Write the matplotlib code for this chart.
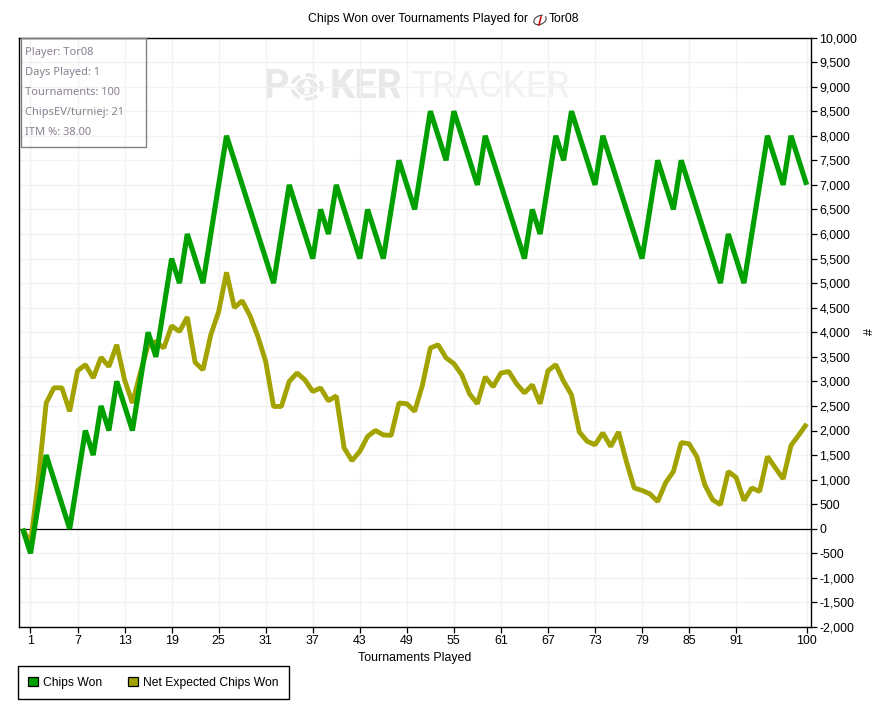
import numpy as np
import matplotlib
matplotlib.use('Agg')
import matplotlib.pyplot as plt
from matplotlib.patches import Patch, Rectangle, Circle, Polygon
from matplotlib.ticker import FuncFormatter

W, H = 883, 707

tournaments = list(range(0, 101))

chips_won = [
    0, -500, 500, 1500, 1000, 500, 0, 1000, 2000, 1500,
    2500, 2000, 3000, 2500, 2000, 3000, 4000, 3500, 4500, 5500,
    5000, 6000, 5500, 5000, 6000, 7000, 8000, 7500, 7000, 6500,
    6000, 5500, 5000, 6000, 7000, 6500, 6000, 5500, 6500, 6000,
    7000, 6500, 6000, 5500, 6500, 6000, 5500, 6500, 7500, 7000,
    6500, 7500, 8500, 8000, 7500, 8500, 8000, 7500, 7000, 8000,
    7500, 7000, 6500, 6000, 5500, 6500, 6000, 7000, 8000, 7500,
    8500, 8000, 7500, 7000, 8000, 7500, 7000, 6500, 6000, 5500,
    6500, 7500, 7000, 6500, 7500, 7000, 6500, 6000, 5500, 5000,
    6000, 5500, 5000, 6000, 7000, 8000, 7500, 7000, 8000, 7500,
    7000,
]

net_expected = [
    0, -300, 1000, 2560, 2870, 2870, 2390, 3215, 3340, 3070,
    3490, 3300, 3745, 3030, 2560, 3170, 3740, 3810, 3680, 4130,
    4015, 4310, 3385, 3235, 3950, 4420, 5220, 4500, 4640, 4335,
    3915, 3405, 2490, 2490, 3000, 3170, 3030, 2795, 2865, 2605,
    2705, 1645, 1385, 1575, 1880, 2000, 1910, 1900, 2560, 2545,
    2390, 2930, 3680, 3745, 3480, 3360, 3135, 2745, 2545, 3090,
    2890, 3170, 3200, 2950, 2765, 2930, 2545, 3215, 3340, 3000,
    2727, 1970, 1780, 1710, 1950, 1675, 1970, 1370, 830, 780,
    710, 555, 935, 1165, 1755, 1730, 1465, 895, 590, 490,
    1165, 1045, 575, 830, 760, 1470, 1240, 1015, 1695, 1910,
    2135,
]

x_ticks = [1, 7, 13, 19, 25, 31, 37, 43, 49, 55, 61, 67, 73, 79, 85, 91, 100]
x_tick_labels = ['1', '7', '13', '19', '25', '31', '37', '43', '49', '55', '61', '67', '73', '79', '85', '91', '100']
y_ticks = list(range(-2000, 10001, 500))

stats = ['Player: Tor08', 'Days Played: 1', 'Tournaments: 100', 'ChipsEV/turniej: 21', 'ITM %: 38.00']

plt.rcParams['font.family'] = ['Liberation Sans', 'DejaVu Sans']
FS = 8.9


def px(x, y):
    return x / W, 1 - y / H


fig = plt.figure(figsize=(W / 100, H / 100), dpi=100)
l, t = px(18.5, 37.5)
r, b = px(811, 627)
ax = fig.add_axes([l, b, r - l, t - b])

green = '#00a000'
olive = '#a3a300'
ftr = fig.transFigure

ax.plot(tournaments, net_expected, color=olive, lw=3.5, solid_joinstyle='bevel', solid_capstyle='butt', zorder=3)
ax.plot(tournaments, chips_won, color=green, lw=3.7, solid_joinstyle='bevel', solid_capstyle='butt', zorder=4)
ax.axhline(0, color='black', lw=0.9, zorder=2)

ax.set_xlim(-0.53, 100.55)
ax.set_ylim(-2000, 10000)
ax.yaxis.tick_right()
ax.yaxis.set_label_position('right')
ax.set_yticks(y_ticks)
ax.yaxis.set_major_formatter(FuncFormatter(lambda v, pos: f'{int(v):,}'))
ax.set_xticks(x_ticks)
ax.set_xticklabels(x_tick_labels)
ax.tick_params(length=4, width=0.9, labelsize=FS, color='black')
ax.tick_params(axis='x', pad=2)
ax.tick_params(axis='y', pad=2)
ax.grid(axis='y', color='#f2f2f2', lw=1.0, zorder=0)
for g in x_ticks:
    ax.axvline(g, color='#f2f2f2', lw=1.0, zorder=0)
for s in ax.spines.values():
    s.set_linewidth(1.0)

ax.set_xlabel('Tournaments Played', fontsize=FS, labelpad=3)
fig.text(*px(870, 332), '#', rotation=90, fontsize=FS, ha='center', va='center')
fig.text(*px(308, 19), 'Chips Won over Tournaments Played for', fontsize=8.85, ha='left', va='center')
fig.text(*px(549, 19), 'Tor08', fontsize=8.85, ha='left', va='center')

# little player icon next to the title
angles = np.linspace(-0.2, 1.7 * np.pi, 30)
arc = [px(540 + 6 * np.cos(a) + 1.5 * np.sin(a), 20 - 2.5 * np.cos(a) + 4 * np.sin(a)) for a in angles]
fig.add_artist(plt.Line2D(*zip(*arc), color='#444444', lw=0.8))
fig.add_artist(plt.Line2D(*zip(*[px(x, y) for x, y in [(541, 17), (539, 25)]]), color='#cc0000', lw=1.1))

# watermark, behind the grid
mark_dark = '#e8e8e8'
mark_light = '#f1f1f1'
ax.text(*px(264, 87), 'P', fontsize=28.5, fontweight='bold', color=mark_dark, family='Roboto',
        ha='left', va='center', transform=ftr, zorder=-1)
ax.text(*px(329, 87), 'KER', fontsize=28.5, fontweight='bold', color=mark_dark, family='Roboto',
        ha='left', va='center', transform=ftr, zorder=-1)
ax.text(*px(410, 87), 'TRACKER', fontsize=26.5, color=mark_light, family='Roboto',
        ha='left', va='center', transform=ftr, zorder=-1)
ax.add_patch(Circle(px(307, 87), 10.5 / W, transform=ftr, fc=mark_dark, ec='none', zorder=-1))
ax.add_patch(Circle(px(307, 87), 15 / W, transform=ftr, fc='none', ec=mark_dark, lw=2.6, ls=(0, (3, 1.6)), zorder=-1))
spade = [(307, 79), (312, 87), (309, 89), (310, 94), (304, 94), (305, 89), (302, 87)]
ax.add_patch(Polygon([px(x, y) for x, y in spade], transform=ftr, fc='white', ec='none', zorder=-1))

# stats box
bx, by = px(20.5, 147)
fig.add_artist(Rectangle((bx, by), 125 / W, 108.5 / H, transform=ftr, fc='none', ec='#808080', lw=1.0, zorder=6))
for i, s in enumerate(stats):
    fig.text(*px(25, 55 + 20 * i), s, fontsize=8.0, color='#8a8090', family=['Noto Sans', 'DejaVu Sans'],
             ha='left', va='baseline', zorder=6)

handles = [Patch(fc=green, ec='black', lw=0.9, label='Chips Won'),
           Patch(fc=olive, ec='black', lw=0.9, label='Net Expected Chips Won')]
fig.legend(handles=handles, ncol=2, loc='lower left', bbox_to_anchor=px(18, 699), fontsize=8.7,
           fancybox=False, edgecolor='black', framealpha=1, handlelength=0.8, handleheight=0.8,
           handletextpad=0.4, columnspacing=2.2, borderpad=0.85, borderaxespad=0)

fig.savefig('out.png', dpi=100)
